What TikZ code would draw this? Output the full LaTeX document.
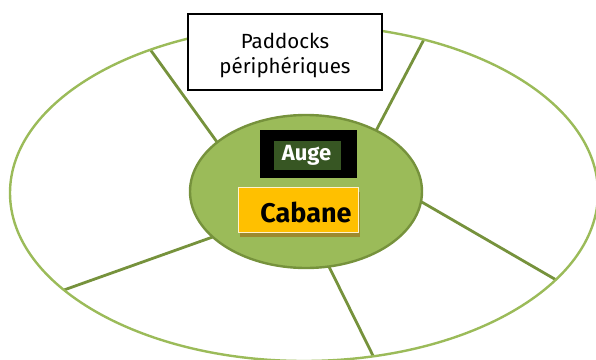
\documentclass[tikz,border=0pt]{standalone}
\usepackage{fontspec}
\setmainfont{Fira Sans}
\usetikzlibrary{shapes.geometric,backgrounds}
\definecolor{rimgreen}{HTML}{9BBB59}
\definecolor{spokegreen}{HTML}{76923C}
\definecolor{corefill}{HTML}{9BBB59}
\definecolor{coreedge}{HTML}{76923C}
\definecolor{troughgreen}{HTML}{375623}
\definecolor{hutgold}{HTML}{FFC000}
\definecolor{hutshadow}{HTML}{9C8A2F}
\definecolor{hutedge}{HTML}{FFF2CC}
\tikzset{
  spoke/.style={draw=spokegreen, line width=2.8pt},
  oval/.style={ellipse, inner sep=0pt, outer sep=0pt},
  plainbox/.style={rectangle, inner sep=0pt, outer sep=0pt},
}
\begin{document}
\begin{tikzpicture}[x=1pt,y=-1pt]
\useasboundingbox (0,0) rectangle (596,359);
% outer ring of paddocks
\node[oval, draw=rimgreen, line width=2.4pt, minimum width=588pt, minimum height=336pt] (rim) at (304,193) {};
% central area
\node[oval, fill=corefill, draw=coreedge, line width=2.4pt, minimum width=232pt, minimum height=153pt] (core) at (306,191.5) {};
% fences between paddocks
\begin{scope}[on background layer]
  \draw[spoke] (core.151.5) -- (rim.137);
  \draw[spoke] (core.41.4) -- (rim.52.3);
  \draw[spoke] (core.-5.7) -- (rim.-19.4);
  \draw[spoke] (core.206) -- (rim.202.6);
  \draw[spoke] (core.-73.3) -- (rim.-67.7);
\end{scope}
% trough
\node[plainbox, fill=black, minimum width=97pt, minimum height=48pt] (augeframe) at (308.5,154) {};
\node[plainbox, fill=troughgreen, minimum width=67pt, minimum height=29pt] (auge) at (307.5,155.5) {};
\node[text=white, font=\bfseries\fontsize{22}{24}\selectfont, inner sep=0pt] (augelabel) at (306.5,155) {Auge};
% shelter with its shadow
\node[plainbox, fill=hutshadow, minimum width=120pt, minimum height=45pt] (cabaneshadow) at (300,214) {};
\node[plainbox, fill=hutgold, draw=hutedge, line width=0.8pt, minimum width=120pt, minimum height=45pt] (cabane) at (298,209.5) {};
\node[font=\bfseries\fontsize{27}{30}\selectfont, inner sep=0pt] (cabanelabel) at (306,212) {Cabane};
% label box
\node[plainbox, fill=white, draw=black, line width=1.8pt, minimum width=194pt, minimum height=76pt] (paddocks) at (285,52) {};
\node[align=center, font=\fontsize{20.5}{25}\selectfont, inner sep=0pt] (paddockslabel) at (285,55) {Paddocks\\périphériques};
\end{tikzpicture}
\end{document}
